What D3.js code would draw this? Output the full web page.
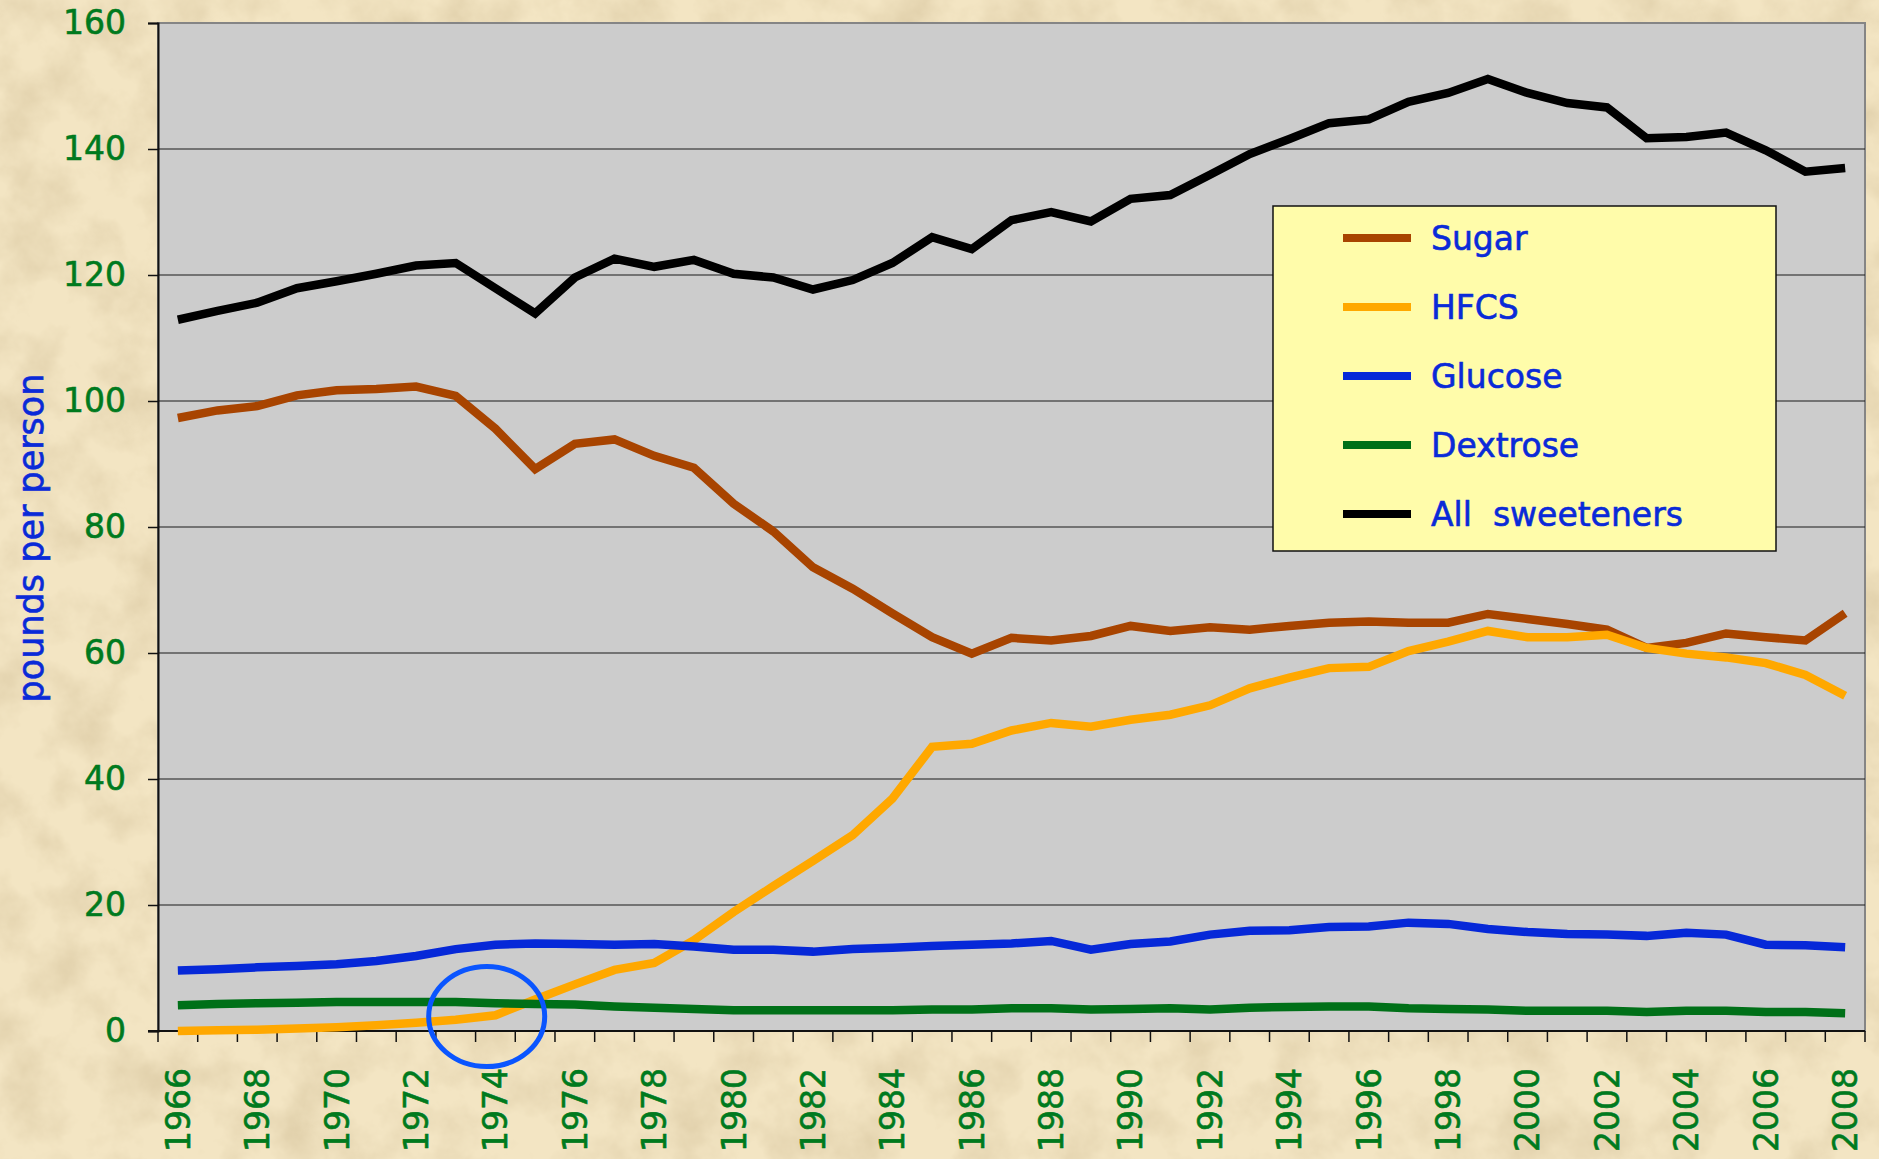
<!DOCTYPE html>
<html>
<head>
<meta charset="utf-8">
<script src="https://cdn.jsdelivr.net/npm/d3@7"></script>
<style>
  body { margin: 0; background: #eedfb9; }
  svg { display: block; }
  text { font-family: "DejaVu Sans", Verdana, sans-serif; white-space: pre; }
</style>
</head>
<body>
<div id="chart"></div>
<script>
var years = ["1966","1967","1968","1969","1970","1971","1972","1973","1974","1975",
  "1976","1977","1978","1979","1980","1981","1982","1983","1984","1985",
  "1986","1987","1988","1989","1990","1991","1992","1993","1994","1995",
  "1996","1997","1998","1999","2000","2001","2002","2003","2004","2005",
  "2006","2007","2008"];

var sugar = [97.3,98.5,99.2,100.9,101.7,101.9,102.3,100.8,95.6,89.2,
  93.2,93.9,91.3,89.4,83.7,79.3,73.6,70.2,66.3,62.5,
  59.9,62.4,62.0,62.7,64.3,63.5,64.1,63.7,64.3,64.8,
  65.0,64.8,64.8,66.2,65.4,64.6,63.7,60.8,61.6,63.1,
  62.5,62.0,66.3];

var hfcs = [0.0,0.1,0.2,0.4,0.6,0.9,1.3,1.8,2.5,5.0,
  7.4,9.7,10.8,14.4,18.9,23.0,27.0,31.1,36.9,45.1,
  45.6,47.7,48.9,48.3,49.4,50.2,51.7,54.4,56.1,57.6,
  57.8,60.3,61.8,63.5,62.5,62.5,62.9,60.8,59.9,59.3,
  58.4,56.5,53.2];

var glucose = [9.6,9.8,10.1,10.3,10.6,11.1,11.9,13.0,13.7,13.9,
  13.8,13.7,13.8,13.4,12.9,12.9,12.6,13.0,13.2,13.5,
  13.7,13.9,14.3,12.9,13.8,14.2,15.3,15.9,16.0,16.5,
  16.6,17.2,17.0,16.2,15.7,15.4,15.3,15.1,15.6,15.3,
  13.7,13.6,13.3];

var dextrose = [4.1,4.3,4.4,4.5,4.6,4.6,4.6,4.6,4.4,4.3,
  4.2,3.9,3.7,3.5,3.3,3.3,3.3,3.3,3.3,3.4,
  3.4,3.6,3.6,3.4,3.5,3.6,3.4,3.7,3.8,3.9,
  3.9,3.6,3.5,3.4,3.2,3.2,3.2,3.0,3.2,3.2,
  3.0,3.0,2.8];

var allSweeteners = [112.9,114.3,115.6,117.9,119.0,120.2,121.5,121.9,117.9,113.9,
  119.6,122.6,121.3,122.4,120.2,119.6,117.7,119.2,121.9,126.0,
  124.1,128.7,130.0,128.5,132.1,132.7,135.9,139.2,141.6,144.1,
  144.7,147.5,148.9,151.1,148.9,147.3,146.6,141.7,141.9,142.6,
  139.8,136.4,137.0];

var yTicks = [0,20,40,60,80,100,120,140,160];
var xLabels = years.filter(function (d, i) { return i % 2 == 0; });

var seriesNames = ["Sugar","HFCS","Glucose","Dextrose","All  sweeteners"];
var seriesColors = ["#a84400","#ffa800","#0628d8","#007018","#000000"];
var seriesValues = [sugar, hfcs, glucose, dextrose, allSweeteners];

var width = 1879,
    height = 1159;
var margin = {left: 158, right: 14, top: 23, bottom: 128};

var green = "#007a1e",
    blue = "#0a2ad8";

var svg = d3.select("#chart").append("svg")
    .attr("width", width)
    .attr("height", height);

// parchment background
var defs = svg.append("defs");
var paper = defs.append("filter").attr("id", "paper")
    .attr("x", 0).attr("y", 0).attr("width", "100%").attr("height", "100%");
paper.append("feTurbulence")
    .attr("type", "fractalNoise")
    .attr("baseFrequency", "0.018")
    .attr("numOctaves", 5)
    .attr("seed", 7);
paper.append("feColorMatrix")
    .attr("type", "matrix")
    .attr("values", "0 0 0 0 0.72  0 0 0 0 0.6  0 0 0 0 0.38  1.6 0 0 0 -0.62");

svg.append("rect")
    .attr("width", width).attr("height", height)
    .attr("fill", "#f3e5c3");
svg.append("rect")
    .attr("width", width).attr("height", height)
    .attr("filter", "url(#paper)");

var x = d3.scaleBand()
    .domain(years)
    .range([margin.left, width - margin.right]);

var y = d3.scaleLinear()
    .domain([0, 160])
    .range([height - margin.bottom, margin.top]);

var plotL = x.range()[0], plotR = x.range()[1];

svg.append("rect")
    .attr("x", plotL)
    .attr("y", y(160))
    .attr("width", plotR - plotL)
    .attr("height", y(0) - y(160))
    .attr("fill", "#cccccc")
    .attr("stroke", "#858585")
    .attr("stroke-width", 2);

// gridlines
svg.append("g").selectAll("line")
    .data(yTicks.slice(1, -1))
    .enter().append("line")
    .attr("x1", plotL).attr("x2", plotR)
    .attr("y1", function (d) { return y(d); })
    .attr("y2", function (d) { return y(d); })
    .attr("stroke", "#1a1a1a")
    .attr("stroke-width", 1.2);

// y axis
var yAxis = svg.append("g")
    .attr("transform", "translate(" + plotL + ",0)")
    .call(d3.axisLeft(y).tickValues(yTicks).tickSize(10).tickPadding(22));
yAxis.select(".domain").attr("stroke", "#111").attr("stroke-width", 2);
yAxis.selectAll(".tick line").attr("stroke", "#111").attr("stroke-width", 1.5);
yAxis.selectAll("text")
    .attr("fill", green)
    .attr("stroke", green)
    .attr("stroke-width", 0.6)
    .style("font-size", "33px")
    .style("font-family", "'DejaVu Sans', Verdana, sans-serif");

// x axis line and category ticks
svg.append("line")
    .attr("x1", plotL - 10).attr("x2", plotR)
    .attr("y1", y(0)).attr("y2", y(0))
    .attr("stroke", "#111").attr("stroke-width", 2);

svg.append("g").selectAll("line")
    .data(years.concat(["end"]))
    .enter().append("line")
    .attr("x1", function (d) { return d == "end" ? plotR : x(d); })
    .attr("x2", function (d) { return d == "end" ? plotR : x(d); })
    .attr("y1", y(0))
    .attr("y2", y(0) + 11)
    .attr("stroke", "#111")
    .attr("stroke-width", 1.5);

svg.append("g").selectAll("text")
    .data(xLabels)
    .enter().append("text")
    .attr("transform", function (d) {
        return "translate(" + (x(d) + x.bandwidth() / 2) + "," + (y(0) + 37) + ") rotate(-90)";
    })
    .attr("text-anchor", "end")
    .attr("dy", "0.36em")
    .attr("fill", green)
    .attr("stroke", green)
    .attr("stroke-width", 0.6)
    .style("font-size", "33px")
    .text(function (d) { return d; });

// y axis title
svg.append("text")
    .attr("transform", "translate(30," + 538 + ") rotate(-90)")
    .attr("text-anchor", "middle")
    .attr("dy", "0.36em")
    .attr("fill", blue)
    .attr("stroke", blue)
    .attr("stroke-width", 0.6)
    .style("font-size", "35px")
    .text("pounds per person");

// series lines
var line = d3.line()
    .x(function (d, i) { return x(years[i]) + x.bandwidth() / 2; })
    .y(function (d) { return y(d); });

svg.append("g").selectAll("path")
    .data(seriesValues)
    .enter().append("path")
    .attr("d", line)
    .attr("fill", "none")
    .attr("stroke", function (d, i) { return seriesColors[i]; })
    .attr("stroke-width", 8.5)
    .attr("stroke-linejoin", "miter")
    .attr("stroke-linecap", "butt");

// legend
var legend = svg.append("g").attr("transform", "translate(1273,206)");
legend.append("rect")
    .attr("width", 503).attr("height", 345)
    .attr("fill", "#fffcaa")
    .attr("stroke", "#111")
    .attr("stroke-width", 1.5);

var item = legend.selectAll("g.item")
    .data(seriesNames)
    .enter().append("g")
    .attr("class", "item")
    .attr("transform", function (d, i) { return "translate(0," + (32 + i * 69) + ")"; });
item.append("line")
    .attr("x1", 70).attr("x2", 138)
    .attr("stroke", function (d, i) { return seriesColors[i]; })
    .attr("stroke-width", 8);
item.append("text")
    .attr("x", 158)
    .attr("dy", "0.36em")
    .attr("fill", blue)
    .attr("stroke", blue)
    .attr("stroke-width", 0.6)
    .style("font-size", "33px")
    .text(function (d) { return d; });

// circled crossover point
svg.append("ellipse")
    .attr("cx", x("1974") + x.bandwidth() * 0.28)
    .attr("cy", y(2.3))
    .attr("rx", 58)
    .attr("ry", 50)
    .attr("fill", "none")
    .attr("stroke", "#0a55ff")
    .attr("stroke-width", 5);
</script>
</body>
</html>
